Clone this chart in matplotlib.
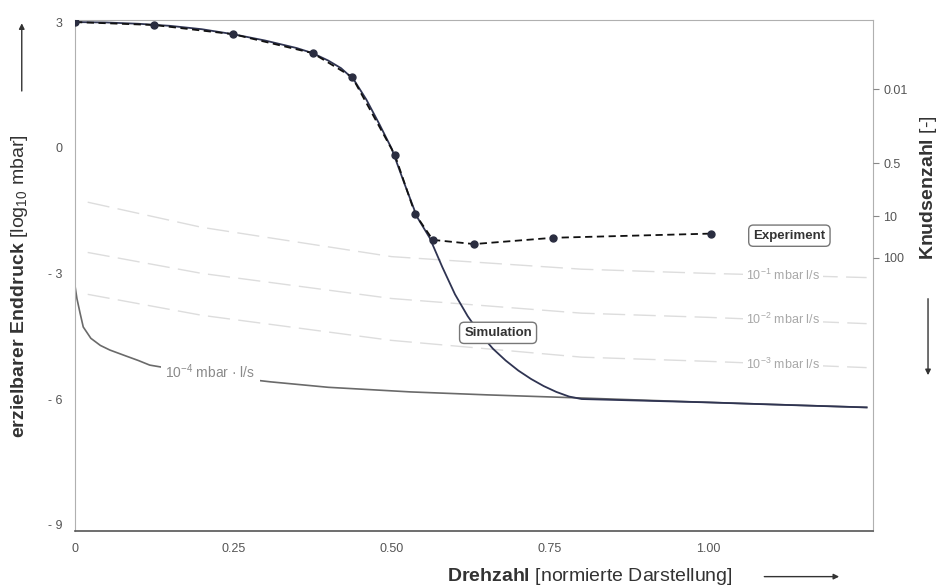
import matplotlib
matplotlib.use("Agg")
from matplotlib import pyplot as plt
import numpy as np

plt.rcParams['font.family'] = ['Liberation Sans', 'DejaVu Sans']
plt.rcParams['mathtext.fontset'] = 'custom'
plt.rcParams['mathtext.rm'] = 'Liberation Sans'
plt.rcParams['mathtext.bf'] = 'Liberation Sans:bold'

# experiment (measured end pressure, log10 mbar)
exp_x = [0.0, 0.125, 0.25, 0.375, 0.4375, 0.505, 0.537, 0.565, 0.63, 0.755, 1.005]
exp_y = [3.0, 2.93, 2.71, 2.26, 1.69, -0.17, -1.58, -2.2, -2.3, -2.15, -2.05]

# simulation curve
sim_x = [0.0, 0.05, 0.1, 0.15, 0.2, 0.25, 0.3, 0.35, 0.375, 0.4, 0.42, 0.44,
         0.46, 0.48, 0.50, 0.52, 0.54, 0.56, 0.58, 0.60, 0.62, 0.64, 0.66,
         0.68, 0.70, 0.72, 0.74, 0.76, 0.78, 0.80, 0.9, 1.0, 1.1, 1.25]
sim_y = [3.0, 2.99, 2.96, 2.91, 2.83, 2.71, 2.56, 2.38, 2.26, 2.08, 1.90, 1.63,
         1.15, 0.58, -0.02, -0.85, -1.65, -2.15, -2.85, -3.50, -4.02, -4.45, -4.80,
         -5.08, -5.32, -5.52, -5.69, -5.83, -5.94, -6.0, -6.04, -6.08, -6.13, -6.2]

# leak-rate limit lines
leak_x = [0.02, 0.2, 0.5, 0.8, 1.0, 1.25]
leak1_y = [-1.3, -1.9, -2.6, -2.9, -3.0, -3.1]
leak2_y = [-2.5, -3.0, -3.6, -3.95, -4.05, -4.2]
leak3_y = [-3.5, -4.0, -4.6, -5.0, -5.1, -5.25]
leak4_x = [0.0, 0.003, 0.008, 0.013, 0.025, 0.04, 0.055, 0.08, 0.1, 0.118, 0.2,
           0.309, 0.4, 0.53, 0.65, 0.79, 1.0, 1.25]
leak4_y = [-3.3, -3.6, -3.95, -4.28, -4.55, -4.72, -4.83, -4.97, -5.08, -5.19, -5.4,
           -5.59, -5.72, -5.83, -5.9, -5.97, -6.08, -6.2]

y_ticks = [3, 0, -3, -6, -9]
y_labels = ["3", "0", "- 3", "- 6", "- 9"]
x_ticks = [0, 0.25, 0.5, 0.75, 1.0]
x_labels = ["0", "0.25", "0.50", "0.75", "1.00"]
kn_pos = [1.40, -0.37, -1.63, -2.63]
kn_labels = ["0.01", "0.5", "10", "100"]

fig = plt.figure(figsize=(9.46, 5.86), dpi=100)
ax = fig.add_axes([0.0793, 0.0939, 0.8435, 0.872])

lc = '#dddddd'
for ly in [leak1_y, leak2_y, leak3_y]:
    ax.plot(leak_x, ly, color=lc, lw=1.0, dashes=(16, 6), zorder=1)
ax.plot(leak4_x, leak4_y, color='#6a6a6a', lw=1.2, zorder=2)
ax.plot(sim_x, sim_y, color='#2f3452', lw=1.3, zorder=3)
ax.plot(exp_x, exp_y, color='#111111', lw=1.3, dashes=(4, 2.5),
        marker='o', ms=5, mfc='#2a2d40', mec='#2a2d40', zorder=4)

gray_txt = dict(color='#a8a8a8', fontsize=9, ha='center', va='center',
                bbox=dict(facecolor='white', edgecolor='none', pad=2), zorder=5)
ax.text(1.118, -3.05, "10$^{-1}$ mbar l/s", **gray_txt)
ax.text(1.118, -4.1, "10$^{-2}$ mbar l/s", **gray_txt)
ax.text(1.118, -5.17, "10$^{-3}$ mbar l/s", **gray_txt)
ax.text(0.214, -5.35, "10$^{-4}$ mbar · l/s", color='#8a8a8a', fontsize=10,
        ha='center', va='center',
        bbox=dict(facecolor='white', edgecolor='none', pad=3), zorder=5)

box = dict(boxstyle='round,pad=0.35', facecolor='white', edgecolor='#777777', lw=1.0)
ax.text(0.668, -4.42, "Simulation", fontsize=9.5, fontweight='bold', color='#333333',
        ha='center', va='center', bbox=box, zorder=6)
ax.text(1.128, -2.1, "Experiment", fontsize=9.5, fontweight='bold', color='#333333',
        ha='center', va='center', bbox=box, zorder=6)

ax.set_xlim(0, 1.26)
ax.set_ylim(-9.15, 3.05)
ax.set_xticks(x_ticks)
ax.set_xticklabels(x_labels)
ax.set_yticks(y_ticks)
ax.set_yticklabels(y_labels)
ax.tick_params(axis='both', length=0, labelsize=9, labelcolor='#555555', pad=9)
for s in ['left', 'top', 'right']:
    ax.spines[s].set_color('#b0b0b0')
ax.spines['bottom'].set_color('#555555')
ax.spines['bottom'].set_linewidth(1.2)

ax2 = ax.twinx()
ax2.set_ylim(ax.get_ylim())
ax2.set_yticks(kn_pos)
ax2.set_yticklabels(kn_labels)
ax2.tick_params(axis='y', length=4, color='#888888', labelsize=9, labelcolor='#555555')
for s in ax2.spines.values():
    s.set_visible(False)

lab = dict(fontsize=14, color='#333333', ha='center', va='center')
fig.text(0.021, 0.512, r"$\bf{erzielbarer\ Enddruck}$ [log$_{10}$ mbar]", rotation=90, **lab)
fig.text(0.623, 0.016, r"$\bf{Drehzahl}$ [normierte Darstellung]", **lab)
fig.text(0.981, 0.68, r"$\bf{Knudsenzahl}$ [-]", rotation=90, **lab)

arr = dict(arrowstyle='-|>', color='#333333', lw=1.0, mutation_scale=8)
fig.add_artist(matplotlib.patches.FancyArrowPatch((0.023, 0.84), (0.023, 0.965),
                                                  transform=fig.transFigure, **arr))
fig.add_artist(matplotlib.patches.FancyArrowPatch((0.805, 0.016), (0.89, 0.016),
                                                  transform=fig.transFigure, **arr))
fig.add_artist(matplotlib.patches.FancyArrowPatch((0.981, 0.495), (0.981, 0.355),
                                                  transform=fig.transFigure, **arr))

fig.savefig('out.png', dpi=100)
